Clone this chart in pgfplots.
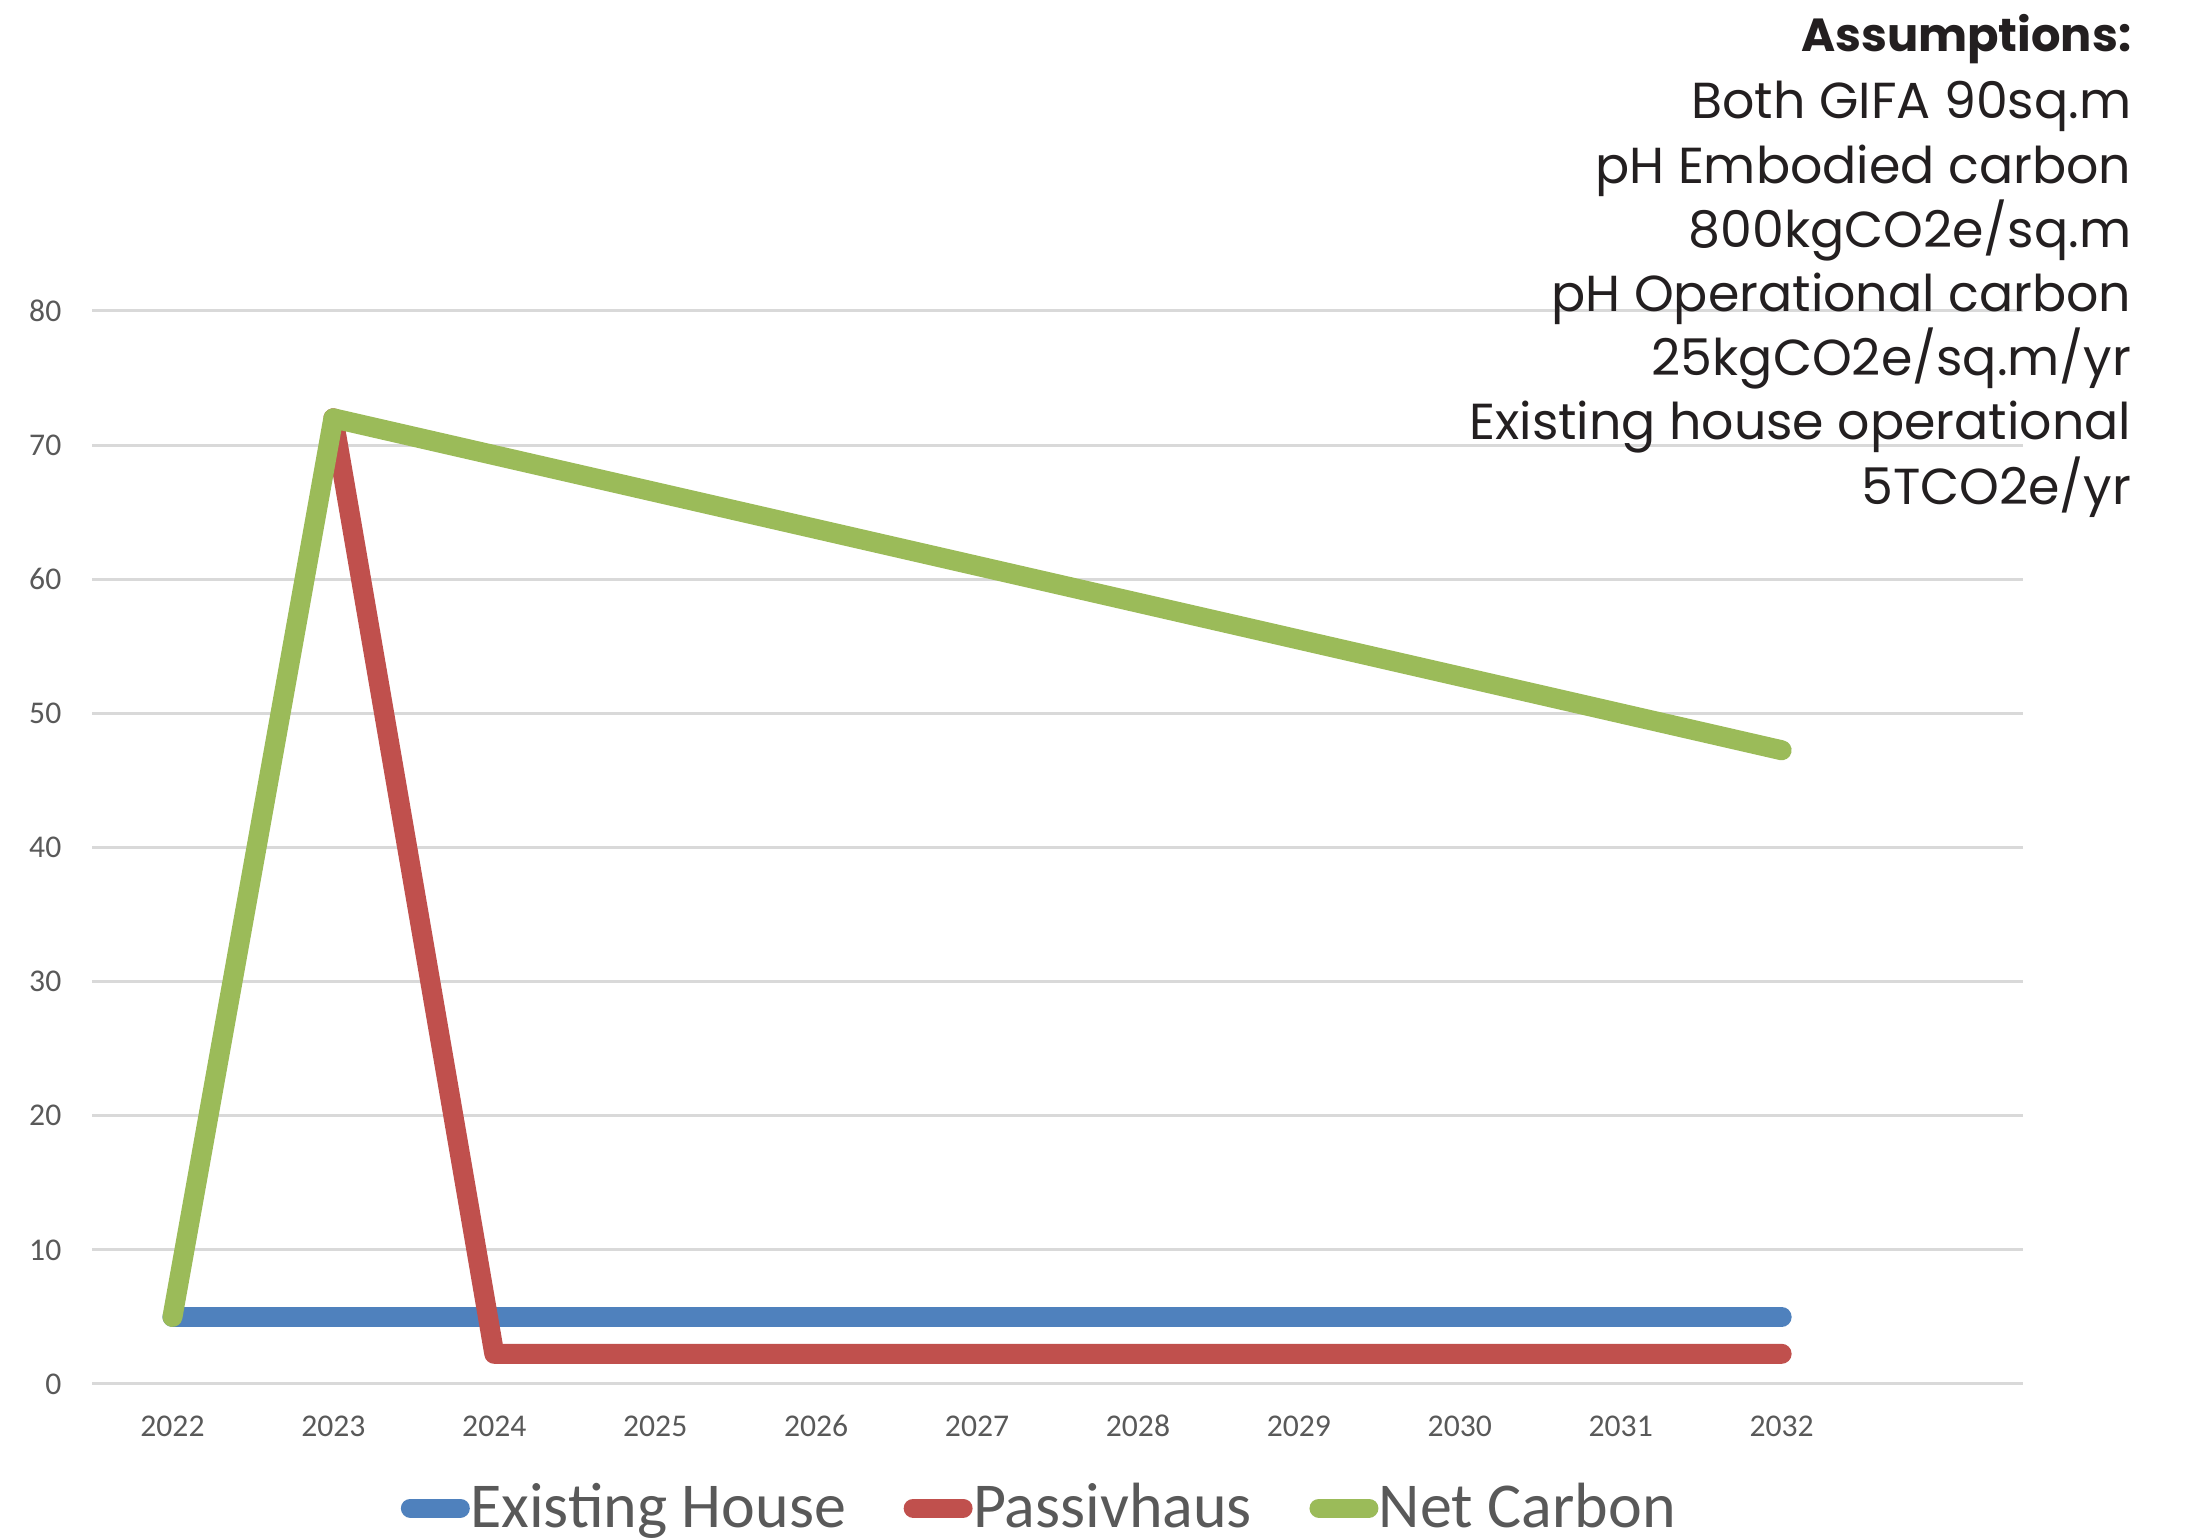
\documentclass[border=0pt]{standalone}
\usepackage{pgfplots}
\pgfplotsset{compat=1.18}
\usepackage{fontspec}
\setmainfont{Carlito}
\newfontfamily\gothic{Poppins}
\definecolor{cblue}{HTML}{4F81BD}
\definecolor{cred}{HTML}{C0504D}
\definecolor{cgreen}{HTML}{9BBB59}
\definecolor{tgray}{HTML}{595959}
\definecolor{ggray}{HTML}{D9D9D9}
\definecolor{atext}{HTML}{231F20}
\begin{document}
\begin{tikzpicture}
\path[use as bounding box] (-9.2mm,-15.5mm) rectangle (209.3mm,138.4mm);
\begin{axis}[
  scale only axis, width=193.1mm, height=107.3mm,
  xmin=-0.5, xmax=11.5, ymin=0, ymax=80,
  axis line style={draw=none}, tick style={draw=none},
  ytick={0,10,...,80}, ymajorgrids, grid style={ggray, line width=0.85pt},
  xtick={0,...,10}, xticklabels={2022,2023,2024,2025,2026,2027,2028,2029,2030,2031,2032},
  /pgf/number format/assume math mode=true,
  ticklabel style={font=\fontsize{9}{10}\selectfont, text=tgray, inner sep=0pt},
  yticklabel style={anchor=east, xshift=-3mm},
  xticklabel style={anchor=center, yshift=-4.2mm},
  clip=false,
  legend style={at={(0.1545,-0.1156)}, anchor=west, draw=none, fill=none,
    legend columns=-1, font=\fontsize{18.2}{19}\selectfont, text=tgray,
    inner sep=0pt, outer sep=0pt, nodes={inner sep=0pt},
    /tikz/every odd column/.append style={column sep=-1mm},
    /tikz/every even column/.append style={column sep=4.7mm}},
  legend image code/.code={\path (0mm,0mm) (7mm,0mm);
    \draw[#1, line width=5.4pt, line cap=round] (1mm,0mm) -- (6mm,0mm);},
  every axis plot/.append style={line width=5.7pt, line cap=round, line join=round},
]
\addplot[cblue] coordinates {(0,5) (1,5) (2,5) (3,5) (4,5) (5,5) (6,5) (7,5) (8,5) (9,5) (10,5)};
\addlegendentry{Existing House}
\addplot[cred] coordinates {(1,72) (2,2.25) (3,2.25) (4,2.25) (5,2.25) (6,2.25) (7,2.25) (8,2.25) (9,2.25) (10,2.25)};
\addlegendentry{Passivhaus}
\addplot[cgreen] coordinates {(0,5) (1,72) (2,69.25) (3,66.5) (4,63.75) (5,61) (6,58.25) (7,55.5) (8,52.75) (9,50) (10,47.25)};
\addlegendentry{Net Carbon}
\end{axis}
\begin{scope}[every node/.style={anchor=base east, inner sep=0pt, text=atext, font=\gothic\fontsize{14.4}{18}\selectfont}]
\node[font=\gothic\bfseries\fontsize{13.2}{15}\selectfont] at (204mm,133.2mm) {Assumptions:};
\node at (204mm,126.5mm) {Both GIFA 90sq.m};
\node at (204mm,120.08mm) {pH Embodied carbon};
\node at (204mm,113.66mm) {800kgCO2e/sq.m};
\node at (204mm,107.24mm) {pH Operational carbon};
\node at (204mm,100.82mm) {25kgCO2e/sq.m/yr};
\node at (204mm,94.4mm) {Existing house operational};
\node at (204mm,87.98mm) {5TCO2e/yr};
\end{scope}
\end{tikzpicture}
\end{document}
